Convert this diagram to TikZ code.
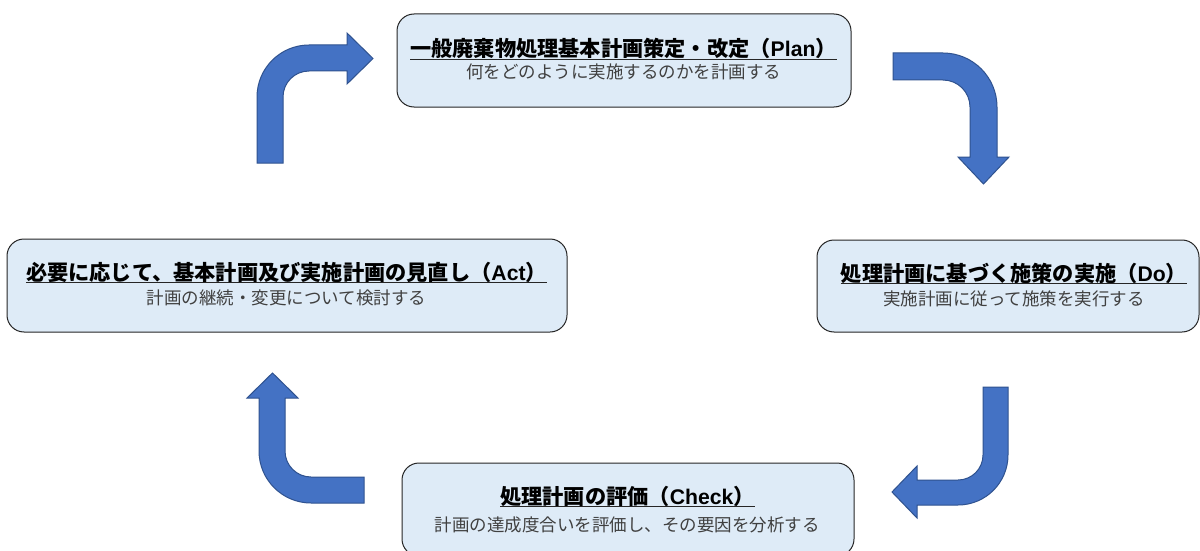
\documentclass[tikz,border=0pt]{standalone}
\usepackage{fontspec}
\setmainfont{Noto Sans CJK JP}
\newfontfamily\latinfont{Liberation Sans}
\definecolor{boxfill}{HTML}{DEEBF7}
\definecolor{arrowfill}{HTML}{4472C4}
\definecolor{arrowline}{HTML}{2F528F}
\definecolor{subgray}{HTML}{404040}
\begin{document}
\begin{tikzpicture}[x=1pt,y=-1pt,
  stagebox/.style={rectangle, rounded corners=17pt, fill=boxfill, draw=black!85, line width=1pt, inner sep=0pt},
  titletext/.style={font=\fontsize{21.2}{24}\selectfont\bfseries, inner sep=0pt, anchor=base},
  subtext/.style={font=\fontsize{17.5}{21}\selectfont, text=subgray, inner sep=0pt, anchor=base},
  uline/.style={line width=1pt, draw=black!85},
  blockarrow/.style={fill=arrowfill, draw=arrowline, line width=1pt, line join=miter}]
\useasboundingbox (0,0) rectangle (1200,551);
\clip (0,0) rectangle (1200,551);
\fill[white] (0,0) rectangle (1200,551);

% boxes
\node[stagebox, minimum width=454pt, minimum height=93pt] (plan) at (624,60.5) {};
\node[stagebox, minimum width=560pt, minimum height=93pt] (act) at (287,285.5) {};
\node[stagebox, minimum width=382pt, minimum height=92pt] (do) at (1008,286) {};
\node[stagebox, minimum width=452pt, minimum height=93pt] (check) at (628,509.5) {};

% titles
\node[titletext] (ptitle) at (623.5,57) {一般廃棄物処理基本計画策定・改定（{\latinfont Plan}）\hspace{0.55em}};
\node[titletext] (atitle) at (286.5,280) {必要に応じて、基本計画及び実施計画の見直し（{\latinfont Act}）\hspace{0.55em}};
\node[titletext] (dtitle) at (1014,281) {処理計画に基づく施策の実施（{\latinfont Do}）\hspace{0.55em}};
\node[titletext] (ctitle) at (627.5,504.5) {処理計画の評価（{\latinfont Check}）\hspace{0.55em}};
\foreach \t in {ptitle,atitle,dtitle,ctitle}
  \draw[uline] ([yshift=-2.3pt]\t.base west) -- ([yshift=-2.3pt]\t.base east);

% subtitles
\node[subtext] (psub) at (623.5,78.8) {何をどのように実施するのかを計画する};
\node[subtext] (asub) at (286.7,304.6) {計画の継続・変更について検討する};
\node[subtext] (dsub) at (1014,305.5) {実施計画に従って施策を実行する};
\node[subtext] (csub) at (627.4,531) {計画の達成度合いを評価し、その要因を分析する};

% block arrows
\draw[blockarrow] (257,163) -- (257,97) arc (180:270:52) -- (347,45) -- (347,33) -- (373,58.5)
  -- (347,84) -- (347,71) -- (309,71) arc (270:180:26) -- (283,163) -- cycle;
\draw[blockarrow] (893,53) -- (943,53) arc (270:360:54) -- (997,157) -- (1009,157) -- (983.5,184)
  -- (958,157) -- (970,157) -- (970,107) arc (0:-90:27) -- (893,80) -- cycle;
\draw[blockarrow] (983,387) -- (1008,387) -- (1008,455) arc (0:90:50) -- (917,505) -- (917,518)
  -- (892,492) -- (917,466) -- (917,480) -- (958,480) arc (90:0:25) -- cycle;
\draw[blockarrow] (364,503) -- (311,503) arc (90:180:52) -- (259,398) -- (247,398) -- (272.5,373)
  -- (298,398) -- (285,398) -- (285,451) arc (180:90:26) -- (364,477) -- cycle;
\end{tikzpicture}
\end{document}
